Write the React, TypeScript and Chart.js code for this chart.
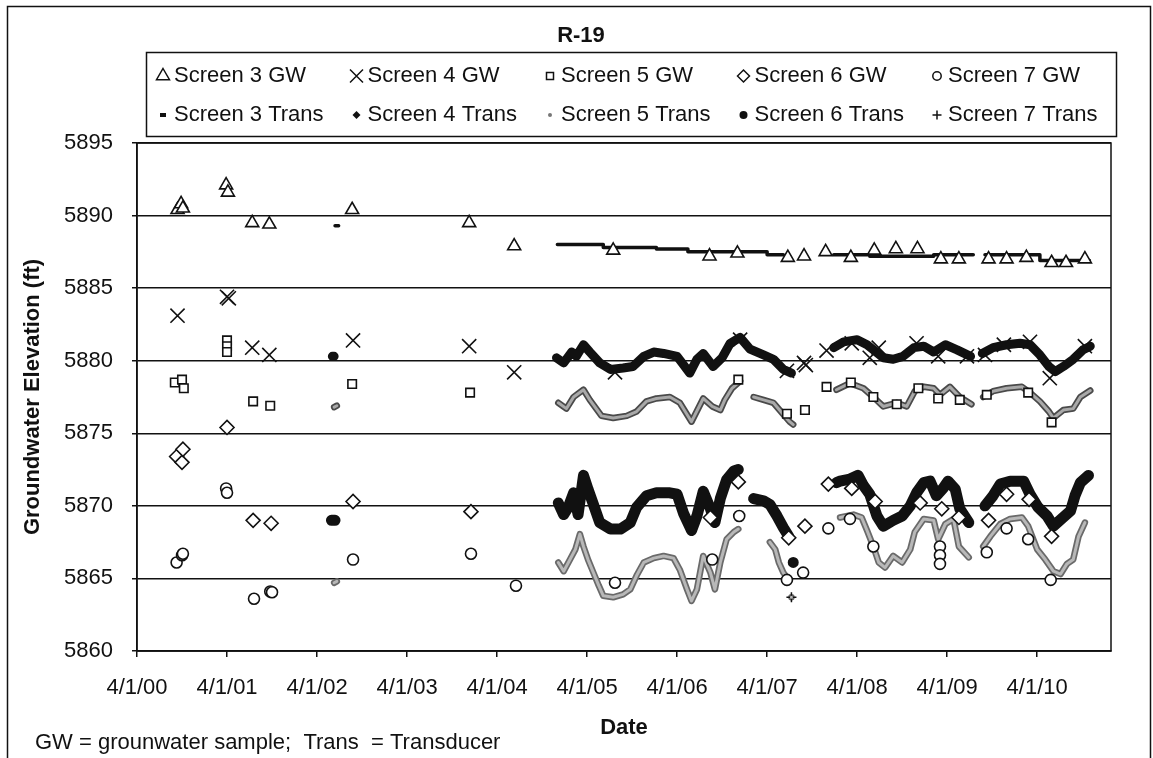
import React, { useEffect, useRef } from 'react';
import { Chart, registerables } from 'chart.js';

Chart.register(...registerables);

type P = [number, number] | null;

// ---------- text ----------
const TITLE = 'R-19';
const X_TITLE = 'Date';
const Y_TITLE = 'Groundwater Elevation (ft)';
const FOOTNOTE = 'GW = grounwater sample;  Trans  = Transducer';

// ---------- axes (x in decimal years) ----------
const X_MIN = 2000.25;
const X_MAX = 2011.07;
const X_TICKS = [2000.25, 2001.25, 2002.25, 2003.25, 2004.25, 2005.25, 2006.25, 2007.25, 2008.25, 2009.25, 2010.25];
const X_TICK_LABELS = ['4/1/00', '4/1/01', '4/1/02', '4/1/03', '4/1/04', '4/1/05', '4/1/06', '4/1/07', '4/1/08', '4/1/09', '4/1/10'];
const Y_MIN = 5860;
const Y_MAX = 5895;
const Y_STEP = 5;

// ---------- legend labels ----------
const LEGEND_GW = ['Screen 3 GW', 'Screen 4 GW', 'Screen 5 GW', 'Screen 6 GW', 'Screen 7 GW'];
const LEGEND_TRANS = ['Screen 3 Trans', 'Screen 4 Trans', 'Screen 5 Trans', 'Screen 6 Trans', 'Screen 7 Trans'];

// ---------- groundwater samples ----------
const screen3GW: P[] = [
  [2000.70, 5890.4], [2000.74, 5890.8], [2000.76, 5890.5],
  [2001.24, 5892.1], [2001.26, 5891.6],
  [2001.53, 5889.5], [2001.72, 5889.4], [2002.64, 5890.4], [2003.94, 5889.5], [2004.44, 5887.9],
  [2005.54, 5887.6], [2006.61, 5887.2], [2006.92, 5887.4], [2007.48, 5887.1], [2007.66, 5887.2],
  [2007.90, 5887.5], [2008.18, 5887.1], [2008.44, 5887.6], [2008.68, 5887.7], [2008.92, 5887.7],
  [2009.18, 5887.0], [2009.38, 5887.0], [2009.71, 5887.0], [2009.91, 5887.0], [2010.13, 5887.1],
  [2010.41, 5886.75], [2010.57, 5886.75], [2010.78, 5887.0],
];
const screen4GW: P[] = [
  [2000.70, 5883.1], [2001.25, 5884.4], [2001.27, 5884.3], [2001.53, 5880.9], [2001.72, 5880.4],
  [2002.65, 5881.4], [2003.94, 5881.0], [2004.44, 5879.2],
  [2005.56, 5879.2], [2006.95, 5881.45], [2007.47, 5879.3], [2007.66, 5879.85], [2007.68, 5879.7],
  [2007.91, 5880.7], [2008.19, 5881.2], [2008.39, 5880.2], [2008.49, 5880.9], [2008.91, 5881.2],
  [2009.15, 5880.3], [2009.47, 5880.3], [2009.67, 5880.4], [2009.88, 5881.1], [2010.17, 5881.3],
  [2010.39, 5878.8], [2010.78, 5881.0],
];
const screen5GW: P[] = [
  [2000.67, 5878.5], [2000.75, 5878.7], [2000.77, 5878.1],
  [2001.25, 5881.4], [2001.25, 5881.0], [2001.25, 5880.6],
  [2001.54, 5877.2], [2001.73, 5876.9], [2002.64, 5878.4], [2003.95, 5877.8],
  [2006.93, 5878.7], [2007.47, 5876.35], [2007.67, 5876.6], [2007.91, 5878.2],
  [2008.18, 5878.5], [2008.43, 5877.5], [2008.69, 5877.0], [2008.93, 5878.1], [2009.15, 5877.4],
  [2009.39, 5877.3], [2009.69, 5877.65], [2010.15, 5877.8], [2010.41, 5875.75],
];
const screen6GW: P[] = [
  [2000.69, 5873.4], [2000.75, 5873.0], [2000.76, 5873.9],
  [2001.25, 5875.4],
  [2001.54, 5869.0], [2001.74, 5868.8], [2002.65, 5870.3], [2003.96, 5869.6],
  [2006.62, 5869.2], [2006.93, 5871.65], [2007.49, 5867.8], [2007.67, 5868.6], [2007.93, 5871.5],
  [2008.19, 5871.2], [2008.45, 5870.3], [2008.95, 5870.2], [2009.19, 5869.8], [2009.38, 5869.2],
  [2009.71, 5869.0], [2009.91, 5870.8], [2010.16, 5870.45], [2010.41, 5867.9],
];
const screen7GW: P[] = [
  [2000.69, 5866.1], [2000.75, 5866.6], [2000.76, 5866.7],
  [2001.24, 5871.2], [2001.25, 5870.9],
  [2001.55, 5863.6], [2001.73, 5864.1], [2001.75, 5864.05],
  [2002.65, 5866.3], [2003.96, 5866.7], [2004.46, 5864.5],
  [2005.56, 5864.7], [2006.64, 5866.3], [2006.94, 5869.3], [2007.47, 5864.9], [2007.65, 5865.4],
  [2007.93, 5868.45], [2008.17, 5869.1], [2008.43, 5867.2], [2009.17, 5867.2], [2009.17, 5866.6],
  [2009.17, 5866.0], [2009.69, 5866.8], [2009.91, 5868.45], [2010.15, 5867.7], [2010.40, 5864.9],
];

// ---------- transducer records (null = gap) ----------
const screen3Trans: P[] = [
  [2002.45, 5889.3], [2002.49, 5889.3], null,
  [2004.92, 5888.0], [2005.43, 5887.8], [2006.02, 5887.7], [2006.37, 5887.5], [2007.25, 5887.3], [2007.43, 5887.3], null,
  [2007.99, 5887.3], [2008.39, 5887.2], [2009.10, 5887.3], [2009.54, 5887.3], null,
  [2009.67, 5887.3], [2010.28, 5886.9], [2010.83, 5886.9],
];
const screen4Trans: P[] = [
  [2002.42, 5880.3], [2002.44, 5880.3], null,
  [2004.91, 5880.2], [2004.99, 5879.85], [2005.08, 5880.6], [2005.13, 5880.3], [2005.21, 5881.1],
  [2005.28, 5880.6], [2005.39, 5879.85], [2005.51, 5879.4], [2005.65, 5879.5], [2005.76, 5879.6],
  [2005.88, 5880.3], [2005.99, 5880.6], [2006.10, 5880.5], [2006.25, 5880.3], [2006.39, 5879.15],
  [2006.47, 5880.1], [2006.54, 5880.5], [2006.65, 5879.6], [2006.75, 5880.2], [2006.84, 5881.2],
  [2006.95, 5881.6], [2007.06, 5880.8], [2007.21, 5880.4], [2007.32, 5880.1], [2007.43, 5879.4],
  [2007.52, 5879.15], null,
  [2007.99, 5880.9], [2008.10, 5881.3], [2008.25, 5881.45], [2008.36, 5881.1], [2008.43, 5880.75],
  [2008.54, 5880.2], [2008.65, 5880.1], [2008.76, 5880.3], [2008.88, 5880.9], [2008.99, 5881.0],
  [2009.10, 5880.6], [2009.23, 5881.1], [2009.36, 5880.75], [2009.51, 5880.3], null,
  [2009.64, 5880.5], [2009.76, 5880.9], [2009.91, 5881.1], [2010.06, 5881.2], [2010.17, 5881.1],
  [2010.28, 5880.4], [2010.38, 5879.6], [2010.45, 5879.25], [2010.54, 5879.6], [2010.65, 5880.1],
  [2010.76, 5880.75], [2010.84, 5881.0],
];
const screen5Trans: P[] = [
  [2002.44, 5876.8], [2002.47, 5876.9], null,
  [2004.93, 5877.1], [2005.02, 5876.7], [2005.10, 5877.5], [2005.21, 5878.0], [2005.28, 5877.3],
  [2005.41, 5876.2], [2005.54, 5876.05], [2005.69, 5876.2], [2005.80, 5876.5], [2005.91, 5877.2],
  [2006.02, 5877.4], [2006.17, 5877.5], [2006.28, 5877.1], [2006.41, 5875.8], [2006.54, 5877.4],
  [2006.64, 5876.85], [2006.73, 5876.6], [2006.78, 5877.3], [2006.86, 5878.1], [2006.95, 5878.6], null,
  [2007.10, 5877.5], [2007.21, 5877.3], [2007.32, 5877.1], [2007.43, 5876.3], [2007.50, 5875.8],
  [2007.54, 5875.6], null,
  [2008.02, 5878.0], [2008.17, 5878.45], [2008.32, 5878.1], [2008.43, 5877.5], [2008.54, 5876.85],
  [2008.69, 5877.1], [2008.80, 5876.85], [2008.89, 5877.9], [2008.99, 5878.2], [2009.10, 5878.1],
  [2009.17, 5877.65], [2009.28, 5878.2], [2009.39, 5877.5], [2009.52, 5877.0], null,
  [2009.65, 5877.5], [2009.76, 5877.9], [2009.91, 5878.1], [2010.08, 5878.2], [2010.17, 5877.8],
  [2010.28, 5877.2], [2010.38, 5876.5], [2010.43, 5876.05], [2010.54, 5876.6], [2010.65, 5876.7],
  [2010.73, 5877.5], [2010.84, 5877.95],
];
const screen6Trans: P[] = [
  [2002.41, 5869.0], [2002.45, 5869.0], null,
  [2004.93, 5870.2], [2004.99, 5869.4], [2005.04, 5869.9], [2005.10, 5870.9], [2005.15, 5869.4],
  [2005.21, 5872.1], [2005.26, 5871.15], [2005.32, 5870.1], [2005.39, 5868.85], [2005.51, 5868.4],
  [2005.62, 5868.4], [2005.73, 5868.85], [2005.80, 5869.9], [2005.91, 5870.7], [2006.02, 5870.9],
  [2006.17, 5870.9], [2006.25, 5870.8], [2006.32, 5869.5], [2006.41, 5868.3], [2006.47, 5869.3],
  [2006.54, 5871.0], [2006.62, 5869.8], [2006.67, 5868.85], [2006.73, 5870.5], [2006.80, 5871.8],
  [2006.88, 5872.4], [2006.93, 5872.5], null,
  [2007.10, 5870.5], [2007.21, 5870.35], [2007.28, 5870.1], [2007.36, 5869.3], [2007.43, 5868.5],
  [2007.49, 5867.9], null,
  [2007.54, 5866.1], null,
  [2008.02, 5871.6], [2008.06, 5871.7], [2008.17, 5871.85], [2008.26, 5872.1], [2008.32, 5871.4],
  [2008.39, 5870.8], [2008.47, 5869.3], [2008.54, 5868.6], [2008.65, 5869.0], [2008.75, 5869.3],
  [2008.84, 5870.0], [2008.91, 5870.9], [2008.99, 5871.6], [2009.06, 5871.7], [2009.13, 5870.7],
  [2009.21, 5871.25], [2009.26, 5871.7], [2009.34, 5871.15], [2009.39, 5869.8], [2009.49, 5868.85], null,
  [2009.67, 5870.0], [2009.76, 5870.7], [2009.84, 5871.5], [2009.95, 5871.7], [2010.10, 5871.7],
  [2010.17, 5870.8], [2010.26, 5869.9], [2010.36, 5869.3], [2010.43, 5868.6], [2010.52, 5869.1],
  [2010.62, 5869.65], [2010.67, 5870.7], [2010.73, 5871.6], [2010.82, 5872.1],
];
const screen7Trans: P[] = [
  [2002.44, 5864.7], [2002.47, 5864.8], null,
  [2004.93, 5866.1], [2004.99, 5865.5], [2005.06, 5866.3], [2005.12, 5867.0], [2005.17, 5868.05],
  [2005.21, 5867.2], [2005.26, 5866.3], [2005.32, 5865.4], [2005.38, 5864.5], [2005.43, 5863.8],
  [2005.54, 5863.7], [2005.65, 5863.9], [2005.73, 5864.25], [2005.80, 5865.2], [2005.88, 5866.1],
  [2005.99, 5866.4], [2006.10, 5866.55], [2006.21, 5866.4], [2006.28, 5865.6], [2006.36, 5864.25],
  [2006.41, 5863.45], [2006.47, 5864.25], [2006.54, 5866.55], [2006.62, 5865.4], [2006.67, 5864.25],
  [2006.73, 5866.1], [2006.80, 5867.7], [2006.88, 5868.2], [2006.93, 5868.4], null,
  [2007.28, 5867.5], [2007.34, 5867.0], [2007.38, 5866.1], [2007.43, 5865.4], [2007.49, 5864.9], null,
  [2007.52, 5863.7], null,
  [2008.06, 5869.2], [2008.21, 5869.4], [2008.30, 5869.2], [2008.36, 5868.3], [2008.43, 5867.2],
  [2008.49, 5866.1], [2008.56, 5865.75], [2008.65, 5866.55], [2008.75, 5866.1], [2008.84, 5867.0],
  [2008.89, 5868.2], [2008.99, 5869.1], [2009.10, 5869.0], [2009.15, 5867.7], [2009.23, 5868.75],
  [2009.32, 5869.1], [2009.38, 5867.2], [2009.49, 5866.45], null,
  [2009.65, 5867.2], [2009.73, 5867.9], [2009.84, 5868.75], [2009.95, 5869.1], [2010.08, 5869.2],
  [2010.15, 5868.6], [2010.25, 5867.0], [2010.34, 5866.3], [2010.43, 5865.5], [2010.51, 5865.3],
  [2010.58, 5866.0], [2010.65, 5866.3], [2010.71, 5867.9], [2010.78, 5868.85],
];

// ---------- helpers ----------
const FONT = '"Liberation Sans", Arial, Helvetica, sans-serif';
const INK = '#111';

function toXY(arr: P[]) {
  let lastX = X_MIN;
  return arr.map((p) => {
    if (p) {
      lastX = p[0];
      return { x: p[0], y: p[1] };
    }
    return { x: lastX, y: null as any };
  });
}

function isolatedRadius(r: number) {
  return (ctx: any) => {
    const d = ctx.dataset.data;
    const i = ctx.dataIndex;
    if (!d[i] || d[i].y === null) return 0;
    const prevGap = i === 0 || d[i - 1].y === null;
    const nextGap = i === d.length - 1 || d[i + 1].y === null;
    return prevGap && nextGap ? r : 0;
  };
}

function gwDataset(label: string, data: P[], style: string, radius: number) {
  return {
    label,
    data: toXY(data),
    showLine: false,
    pointStyle: style,
    pointRadius: radius,
    pointHoverRadius: radius,
    pointBackgroundColor: '#ffffff',
    pointBorderColor: INK,
    pointBorderWidth: 1.6,
  };
}

function transDataset(label: string, data: P[], color: string, width: number, extra: any = {}) {
  return {
    label,
    data: toXY(data),
    showLine: true,
    spanGaps: false,
    borderColor: color,
    borderWidth: width,
    borderJoinStyle: 'round',
    borderCapStyle: 'round',
    tension: 0,
    pointRadius: 0,
    pointHoverRadius: 0,
    pointBorderWidth: 1,
    ...extra,
  };
}

function drawMarker(ctx: CanvasRenderingContext2D, kind: string, x: number, y: number) {
  ctx.save();
  ctx.strokeStyle = INK;
  ctx.fillStyle = INK;
  ctx.lineWidth = 1.5;
  ctx.beginPath();
  switch (kind) {
    case 'triangle': {
      const r = 7.5;
      ctx.moveTo(x, y - r);
      ctx.lineTo(x + r * 0.866, y + r * 0.5);
      ctx.lineTo(x - r * 0.866, y + r * 0.5);
      ctx.closePath();
      ctx.stroke();
      break;
    }
    case 'x': {
      const s = 6.5;
      ctx.moveTo(x - s, y - s); ctx.lineTo(x + s, y + s);
      ctx.moveTo(x + s, y - s); ctx.lineTo(x - s, y + s);
      ctx.stroke();
      break;
    }
    case 'square': {
      const s = 3.5;
      ctx.rect(x - s, y - s, 2 * s, 2 * s);
      ctx.stroke();
      break;
    }
    case 'diamond': {
      const r = 6;
      ctx.moveTo(x - r, y); ctx.lineTo(x, y - r); ctx.lineTo(x + r, y); ctx.lineTo(x, y + r);
      ctx.closePath();
      ctx.stroke();
      break;
    }
    case 'circle': {
      ctx.arc(x, y, 4.2, 0, Math.PI * 2);
      ctx.stroke();
      break;
    }
    case 'dash': {
      ctx.rect(x - 3, y - 2, 6, 4);
      ctx.fill();
      break;
    }
    case 'soliddiamond': {
      const r = 4;
      ctx.moveTo(x - r, y); ctx.lineTo(x, y - r); ctx.lineTo(x + r, y); ctx.lineTo(x, y + r);
      ctx.closePath();
      ctx.fill();
      break;
    }
    case 'dot': {
      ctx.fillStyle = '#777';
      ctx.arc(x, y, 2, 0, Math.PI * 2);
      ctx.fill();
      break;
    }
    case 'soliddot': {
      ctx.arc(x, y, 4, 0, Math.PI * 2);
      ctx.fill();
      break;
    }
    case 'plus': {
      const s = 4.5;
      ctx.moveTo(x - s, y); ctx.lineTo(x + s, y);
      ctx.moveTo(x, y - s); ctx.lineTo(x, y + s);
      ctx.stroke();
      break;
    }
  }
  ctx.restore();
}

const GW_MARKERS = ['triangle', 'x', 'square', 'diamond', 'circle'];
const TRANS_MARKERS = ['dash', 'soliddiamond', 'dot', 'soliddot', 'plus'];

const framePlugin = {
  id: 'frame',
  beforeDraw(chart: any) {
    const ctx = chart.ctx as CanvasRenderingContext2D;
    ctx.save();
    ctx.fillStyle = '#ffffff';
    ctx.fillRect(0, 0, chart.width, chart.height);
    ctx.strokeStyle = INK;
    ctx.lineWidth = 1.5;
    ctx.strokeRect(7.5, 6.5, 1143, 770);
    ctx.restore();
  },
  afterDraw(chart: any) {
    const ctx = chart.ctx as CanvasRenderingContext2D;
    const a = chart.chartArea;
    ctx.save();
    // plot area border
    ctx.strokeStyle = INK;
    ctx.lineWidth = 1.5;
    ctx.strokeRect(a.left, a.top, a.right - a.left, a.bottom - a.top);

    // title
    ctx.fillStyle = INK;
    ctx.font = `bold 22px ${FONT}`;
    ctx.textAlign = 'center';
    ctx.textBaseline = 'middle';
    ctx.fillText(TITLE, 581, 36);

    // legend box
    ctx.lineWidth = 1.5;
    ctx.strokeRect(146.5, 52.5, 970, 84);
    ctx.font = `22px ${FONT}`;
    ctx.textAlign = 'left';
    for (let k = 0; k < 5; k++) {
      const mx = 163 + k * 193.5;
      drawMarker(ctx, GW_MARKERS[k], mx, 76);
      ctx.fillStyle = INK;
      ctx.fillText(LEGEND_GW[k], mx + 11, 76);
      drawMarker(ctx, TRANS_MARKERS[k], mx, 115);
      ctx.fillStyle = INK;
      ctx.fillText(LEGEND_TRANS[k], mx + 11, 115);
    }

    // footnote
    ctx.font = `22px ${FONT}`;
    ctx.textAlign = 'left';
    ctx.fillText(FOOTNOTE, 35, 743);
    ctx.restore();
  },
};

export default function App() {
  const ref = useRef<HTMLCanvasElement | null>(null);

  useEffect(() => {
    if (!ref.current) return;
    Chart.defaults.font.family = FONT;

    const datasets: any[] = [
      gwDataset(LEGEND_GW[0], screen3GW, 'triangle', 7.5),
      gwDataset(LEGEND_GW[1], screen4GW, 'crossRot', 10),
      gwDataset(LEGEND_GW[2], screen5GW, 'rect', 6),
      gwDataset(LEGEND_GW[3], screen6GW, 'rectRot', 7),
      gwDataset(LEGEND_GW[4], screen7GW, 'circle', 5.5),
      transDataset(LEGEND_TRANS[0], screen3Trans, INK, 3.5, { stepped: true }),
      transDataset(LEGEND_TRANS[1], screen4Trans, INK, 9),
      transDataset(LEGEND_TRANS[3], screen6Trans, INK, 11, {
        pointRadius: isolatedRadius(3.5),
        pointStyle: 'circle',
        pointBackgroundColor: INK,
        pointBorderColor: INK,
        pointBorderWidth: 1,
      }),
      transDataset(LEGEND_TRANS[2] + ' (fill)', screen5Trans, '#a9a9a9', 3),
      transDataset(LEGEND_TRANS[4] + ' (fill)', screen7Trans, '#b8b8b8', 3),
      transDataset(LEGEND_TRANS[2], screen5Trans, '#4a4a4a', 6.5),
      transDataset(LEGEND_TRANS[4], screen7Trans, '#6a6a6a', 6.5, {
        pointRadius: isolatedRadius(5),
        pointStyle: 'cross',
        pointBorderColor: INK,
        pointBorderWidth: 1.5,
      }),
    ];

    const chart = new Chart(ref.current, {
      type: 'scatter',
      data: { datasets },
      plugins: [framePlugin],
      options: {
        responsive: false,
        animation: false,
        devicePixelRatio: 1,
        events: [],
        layout: { padding: { top: 143, right: 42, left: 0, bottom: 0 } },
        plugins: {
          legend: { display: false },
          tooltip: { enabled: false },
          title: { display: false },
        },
        scales: {
          x: {
            type: 'linear',
            min: X_MIN,
            max: X_MAX,
            afterBuildTicks: (s: any) => {
              s.ticks = X_TICKS.map((v) => ({ value: v }));
            },
            afterFit: (s: any) => {
              s.height = 107;
            },
            ticks: {
              autoSkip: false,
              maxRotation: 0,
              minRotation: 0,
              padding: 18,
              color: INK,
              font: { size: 22, family: FONT },
              callback: (_v: any, i: number) => X_TICK_LABELS[i] ?? '',
            },
            grid: { drawOnChartArea: false, color: INK, lineWidth: 1.5, tickLength: 6 },
            border: { display: true, color: INK, width: 1.5 },
            title: {
              display: true,
              text: X_TITLE,
              color: INK,
              font: { size: 22, weight: 'bold', family: FONT },
              padding: { top: 0, bottom: 17 },
            },
          },
          y: {
            type: 'linear',
            min: Y_MIN,
            max: Y_MAX,
            afterFit: (s: any) => {
              s.width = 137;
            },
            ticks: {
              stepSize: Y_STEP,
              padding: 19,
              color: INK,
              font: { size: 22, family: FONT },
              callback: (v: any) => String(v),
            },
            grid: { color: INK, lineWidth: 1.5, tickLength: 5 },
            border: { display: true, color: INK, width: 1.5 },
            title: {
              display: true,
              text: Y_TITLE,
              color: INK,
              font: { size: 22, weight: 'bold', family: FONT },
              padding: { top: 20, bottom: 0 },
            },
          },
        },
      } as any,
    });

    return () => chart.destroy();
  }, []);

  return (
    <div style={{ position: 'absolute', left: 0, top: 0, width: 1153, height: 758, background: '#fff' }}>
      <canvas ref={ref} width={1153} height={758} style={{ display: 'block', width: 1153, height: 758 }} />
    </div>
  );
}
